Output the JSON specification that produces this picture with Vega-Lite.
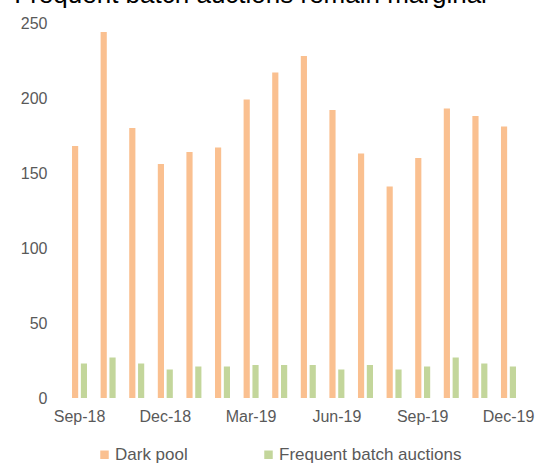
{
  "$schema": "https://vega.github.io/schema/vega-lite/v6.json",
  "width": 480,
  "height": 375,
  "autosize": "none",
  "padding": {"left": 54, "top": 23, "right": 7, "bottom": 66},
  "title": {
    "text": "Frequent batch auctions remain marginal",
    "anchor": "start",
    "font": "Liberation Sans",
    "fontSize": 26,
    "fontWeight": "normal",
    "color": "#000000",
    "baseline": "alphabetic",
    "dx": -6,
    "dy": 18
  },
  "config": {
    "view": {"stroke": null},
    "font": "Liberation Sans"
  },
  "data": {
    "values": [
      {"month": "Sep-18", "series": "Dark pool", "value": 168},
      {"month": "Sep-18", "series": "Frequent batch auctions", "value": 23},
      {"month": "Oct-18", "series": "Dark pool", "value": 244},
      {"month": "Oct-18", "series": "Frequent batch auctions", "value": 27},
      {"month": "Nov-18", "series": "Dark pool", "value": 180},
      {"month": "Nov-18", "series": "Frequent batch auctions", "value": 23},
      {"month": "Dec-18", "series": "Dark pool", "value": 156},
      {"month": "Dec-18", "series": "Frequent batch auctions", "value": 19},
      {"month": "Jan-19", "series": "Dark pool", "value": 164},
      {"month": "Jan-19", "series": "Frequent batch auctions", "value": 21},
      {"month": "Feb-19", "series": "Dark pool", "value": 167},
      {"month": "Feb-19", "series": "Frequent batch auctions", "value": 21},
      {"month": "Mar-19", "series": "Dark pool", "value": 199},
      {"month": "Mar-19", "series": "Frequent batch auctions", "value": 22},
      {"month": "Apr-19", "series": "Dark pool", "value": 217},
      {"month": "Apr-19", "series": "Frequent batch auctions", "value": 22},
      {"month": "May-19", "series": "Dark pool", "value": 228},
      {"month": "May-19", "series": "Frequent batch auctions", "value": 22},
      {"month": "Jun-19", "series": "Dark pool", "value": 192},
      {"month": "Jun-19", "series": "Frequent batch auctions", "value": 19},
      {"month": "Jul-19", "series": "Dark pool", "value": 163},
      {"month": "Jul-19", "series": "Frequent batch auctions", "value": 22},
      {"month": "Aug-19", "series": "Dark pool", "value": 141},
      {"month": "Aug-19", "series": "Frequent batch auctions", "value": 19},
      {"month": "Sep-19", "series": "Dark pool", "value": 160},
      {"month": "Sep-19", "series": "Frequent batch auctions", "value": 21},
      {"month": "Oct-19", "series": "Dark pool", "value": 193},
      {"month": "Oct-19", "series": "Frequent batch auctions", "value": 27},
      {"month": "Nov-19", "series": "Dark pool", "value": 188},
      {"month": "Nov-19", "series": "Frequent batch auctions", "value": 23},
      {"month": "Dec-19", "series": "Dark pool", "value": 181},
      {"month": "Dec-19", "series": "Frequent batch auctions", "value": 21}
    ]
  },
  "mark": {"type": "bar"},
  "encoding": {
    "x": {
      "field": "month",
      "type": "nominal",
      "sort": null,
      "scale": {"paddingInner": 0.475, "paddingOuter": 0.63},
      "axis": {
        "title": null,
        "labelAngle": 0,
        "domain": false,
        "ticks": false,
        "labelFontSize": 16,
        "labelColor": "#595959",
        "labelPadding": 10,
        "labelExpr": "indexof(['Sep-18','Dec-18','Mar-19','Jun-19','Sep-19','Dec-19'], datum.value) >= 0 ? datum.value : ''"
      }
    },
    "xOffset": {
      "field": "series",
      "type": "nominal",
      "scale": {"paddingInner": 0.3}
    },
    "y": {
      "field": "value",
      "type": "quantitative",
      "scale": {"domain": [0, 250], "nice": false},
      "axis": {
        "title": null,
        "values": [0, 50, 100, 150, 200, 250],
        "grid": false,
        "domain": false,
        "ticks": false,
        "labelFontSize": 16,
        "labelColor": "#595959",
        "labelPadding": 7
      }
    },
    "color": {
      "field": "series",
      "type": "nominal",
      "scale": {
        "domain": ["Dark pool", "Frequent batch auctions"],
        "range": ["#FAC090", "#C3D69B"]
      },
      "legend": {
        "title": null,
        "orient": "none",
        "direction": "horizontal",
        "legendX": 42,
        "legendY": 423,
        "symbolType": "square",
        "symbolSize": 72,
        "symbolStrokeWidth": 0,
        "labelFontSize": 17,
        "labelColor": "#595959",
        "labelOffset": 2,
        "labelLimit": 400,
        "columnPadding": 72
      }
    }
  }
}
